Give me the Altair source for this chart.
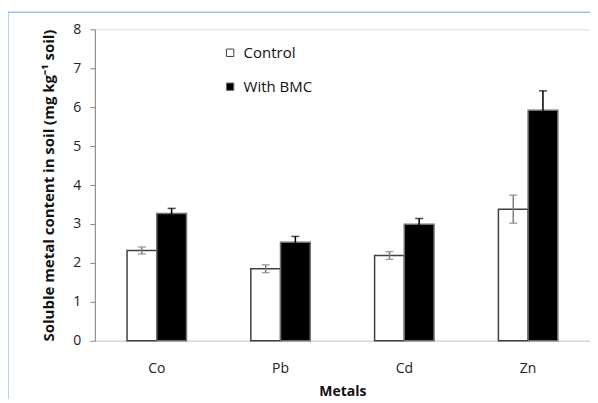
import altair as alt
import pandas as pd

metals = ["Co", "Pb", "Cd", "Zn"]
control = [2.32, 1.85, 2.19, 3.38]
control_err = [0.09, 0.10, 0.10, 0.36]
bmc = [3.27, 2.53, 2.99, 5.92]
bmc_err = [0.13, 0.15, 0.15, 0.50]
series = ["Control", "With BMC"]

rows = []
for i, m in enumerate(metals):
    rows.append({"metal": m, "series": series[0], "value": control[i], "err": control_err[i]})
    rows.append({"metal": m, "series": series[1], "value": bmc[i], "err": bmc_err[i]})
df = pd.DataFrame(rows)
df["lo"] = df["value"] - df["err"]
df["hi"] = df["value"] + df["err"]

FONT = "Open Sans"
YTITLE = "Soluble metal content in soil (mg kg\u207b\u00b9 soil)"

x = alt.X("metal:N", sort=metals, title="Metals",
          scale=alt.Scale(paddingInner=0.52, paddingOuter=0.26),
          axis=alt.Axis(labelAngle=0, ticks=False, domainColor="#d9d9d9", domainWidth=1.5,
                        labelFontSize=14, labelColor="#222222", labelPadding=21,
                        titleFontSize=14, titleFontWeight="bold", titlePadding=9,
                        titleColor="#111111"))
xo = alt.XOffset("series:N", sort=series, scale=alt.Scale(paddingInner=0, paddingOuter=0))
y_axis = alt.Axis(values=[0, 1, 2, 3, 4, 5, 6, 7, 8], grid=False, tickSize=5, tickColor="#868686",
                  domainColor="#868686", labelFontSize=14, labelColor="#222222", labelPadding=9,
                  labelOverlap=False,
                  titleFontSize=15, titleFontWeight="bold", titlePadding=16, titleColor="#111111")
y_scale = alt.Scale(domain=[0, 8], nice=False)

def Y(field):
    return alt.Y(field, title=YTITLE, scale=y_scale, axis=y_axis)

base = alt.Chart(df)

bars = base.mark_bar(strokeWidth=1.5).encode(
    x=x,
    xOffset=xo,
    y=Y("value:Q"),
    fill=alt.Fill("series:N", sort=series,
                  scale=alt.Scale(domain=series, range=["#ffffff", "#000000"]),
                  legend=alt.Legend(title=None, orient="none", legendX=128, legendY=16,
                                    symbolType="square", symbolSize=55, symbolStrokeColor="#7f7f7f",
                                    symbolStrokeWidth=1, labelFontSize=15, labelColor="#111111",
                                    rowPadding=18, labelOffset=6)),
    stroke=alt.Stroke("series:N", sort=series,
                      scale=alt.Scale(domain=series, range=["#404040", "#6f6f6f"]),
                      legend=None),
)

ctrl = base.transform_filter(alt.datum.series == "Control")
bm = base.transform_filter(alt.datum.series == "With BMC")

def err_layers(src, color):
    rule = src.mark_rule(color=color, strokeWidth=1.5).encode(
        x=x, xOffset=xo, y=Y("lo:Q"), y2="hi:Q")
    cap_hi = src.mark_tick(color=color, size=8, thickness=1.5).encode(
        x=x, xOffset=xo, y=Y("hi:Q"))
    cap_lo = src.mark_tick(color=color, size=8, thickness=1.5).encode(
        x=x, xOffset=xo, y=Y("lo:Q"))
    return [rule, cap_hi, cap_lo]

frame_top = alt.Chart(pd.DataFrame({"a": [0]})).mark_rule(color="#9dc3e6", strokeWidth=1.5).encode(
    x=alt.value(-87), x2=alt.value(503), y=alt.value(-17))
frame_left = alt.Chart(pd.DataFrame({"a": [0]})).mark_rule(color="#9dc3e6", strokeWidth=1.5).encode(
    x=alt.value(-87), y=alt.value(-17), y2=alt.value(380))

chart = alt.layer(bars, *err_layers(ctrl, "#808080"), *err_layers(bm, "#000000"),
                  frame_top, frame_left).properties(
    width=496, height=312,
    autosize=alt.AutoSizeParams(type="none"),
    padding={"left": 87, "top": 21, "right": 0, "bottom": 58},
).configure_view(stroke=None).configure(font=FONT)

chart.save("out.html", embed_options={"renderer": "svg", "actions": False})
